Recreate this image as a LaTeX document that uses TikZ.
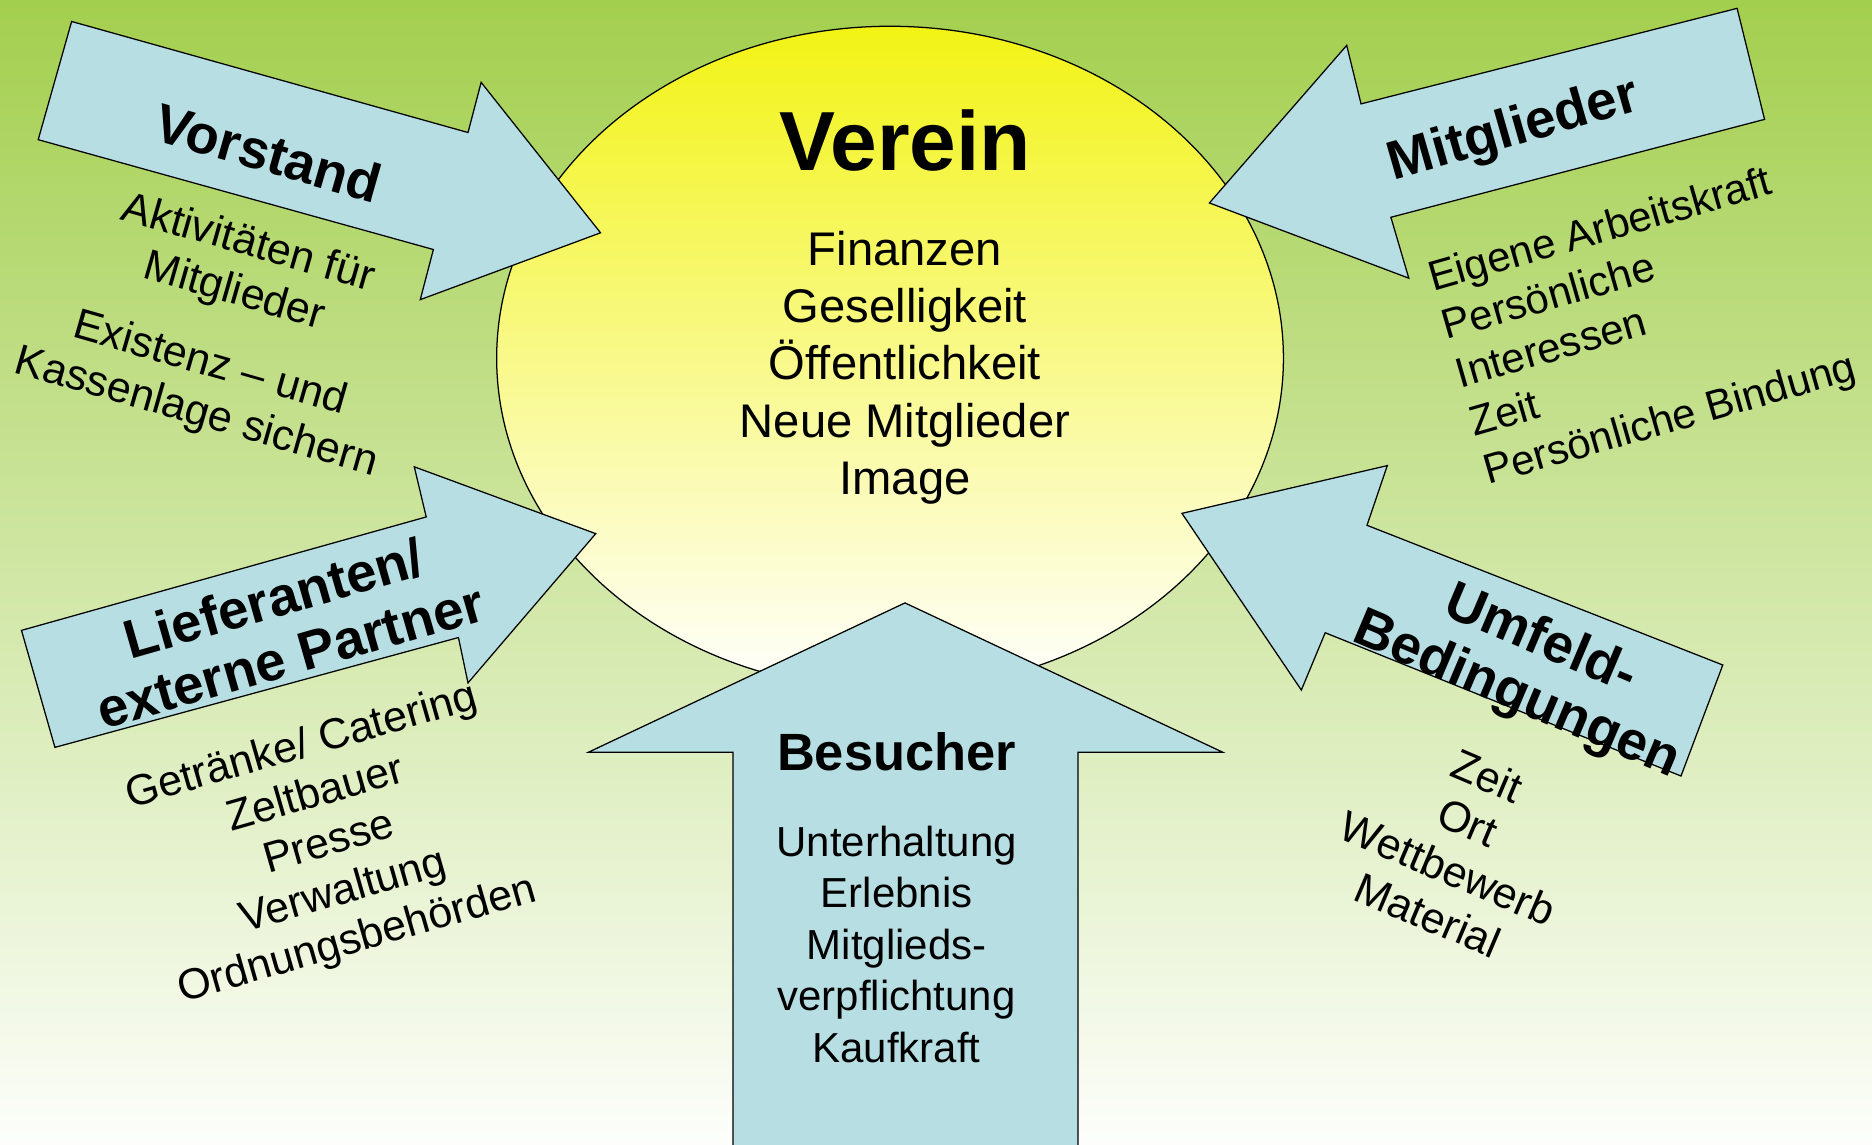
\documentclass[tikz,border=0pt]{standalone}
\usepackage{fontspec}
\setmainfont{Liberation Sans}
\definecolor{bggreen}{RGB}{163,207,78}
\definecolor{bgmid}{RGB}{224,237,204}
\definecolor{bglow}{RGB}{253,254,251}
\definecolor{arrowblue}{RGB}{183,223,227}
\definecolor{ovalyellow}{RGB}{242,243,20}
\definecolor{ovalpale}{RGB}{249,249,180}
\tikzset{
  pfeil/.style={fill=arrowblue, draw=black, line width=0.6pt, line join=miter},
  titel/.style={font=\bfseries\fontsize{26}{28.6}\selectfont, align=center, inner sep=0pt},
  liste/.style={font=\fontsize{20.5}{24}\selectfont, align=center, inner sep=0pt},
}
\begin{document}
\begin{tikzpicture}[x=0.02cm, y=-0.02cm]
	\useasboundingbox (0,0) rectangle (1568,959);
	\shade[top color=bggreen, middle color=bgmid, bottom color=bglow] (0,0) rectangle (1568,959);

	% Verein in der Mitte
	\shade[top color=ovalyellow, middle color=ovalpale, bottom color=white] (745.5,300) ellipse [x radius=329.5, y radius=278];
	\draw[line width=0.6pt] (745.5,300) ellipse [x radius=329.5, y radius=278];

	% Pfeile
	\filldraw[pfeil] (60,18) -- (392,111) -- (403,69) -- (503,195) -- (352,251) -- (363,209) -- (32,117) -- cycle;
	\filldraw[pfeil] (1013,170) -- (1128,38) -- (1140,87) -- (1455,7) -- (1478,100) -- (1165,182) -- (1180,233) -- cycle;
	\filldraw[pfeil] (18,528) -- (357,433) -- (347,391) -- (499,447) -- (392,572) -- (384,534) -- (46,626) -- cycle;
	\filldraw[pfeil] (990,430) -- (1162,390) -- (1145,440) -- (1443,557) -- (1408,650) -- (1110,530) -- (1090,578) -- cycle;
	\filldraw[pfeil] (758,505) -- (1024,630) -- (903,630) -- (903,965) -- (614,965) -- (614,630) -- (493,630) -- cycle;

	\node[font=\bfseries\fontsize{40}{44}\selectfont] (verein) at (758,118) {Verein};
	\node[font=\fontsize{22.5}{27.3}\selectfont, align=center] (ziele) at (758,308) {Finanzen\\Geselligkeit\\Öffentlichkeit\\Neue Mitglieder\\Image};

	\node[titel, rotate=-16] (vorstand) at (225,128) {Vorstand};
	\node[liste, rotate=-16] (vorstand-a) at (202,225) {Aktivitäten für\\Mitglieder};
	\node[liste, rotate=-16] (vorstand-b) at (170,326) {Existenz – und\\Kassenlage sichern};

	\node[titel, rotate=16] (mitglieder) at (1268,110) {Mitglieder};
	\node[liste, rotate=16, align=left, font=\fontsize{20}{24}\selectfont] (beitrag) at (1376,272) {Eigene Arbeitskraft\\Persönliche\\Interessen\\Zeit\\Persönliche Bindung};

	\node[titel, rotate=16] (lieferanten) at (236,525) {Lieferanten/\\externe Partner};
	\node[liste, rotate=16] (partner) at (276,707) {Getränke/ Catering\\Zeltbauer\\Presse\\Verwaltung\\Ordnungsbehörden};

	\node[titel, rotate=-23] (umfeld) at (1280,560) {Umfeld-\\Bedingungen};
	\node[liste, rotate=-23] (bedingungen) at (1221,708) {Zeit\\Ort\\Wettbewerb\\Material};

	\node[font=\bfseries\fontsize{25}{28}\selectfont] (besucher) at (751,630) {Besucher};
	\node[font=\fontsize{20}{24.5}\selectfont, align=center] (erwartungen) at (751,791) {Unterhaltung\\Erlebnis\\Mitglieds-\\verpflichtung\\Kaufkraft};
\end{tikzpicture}
\end{document}
